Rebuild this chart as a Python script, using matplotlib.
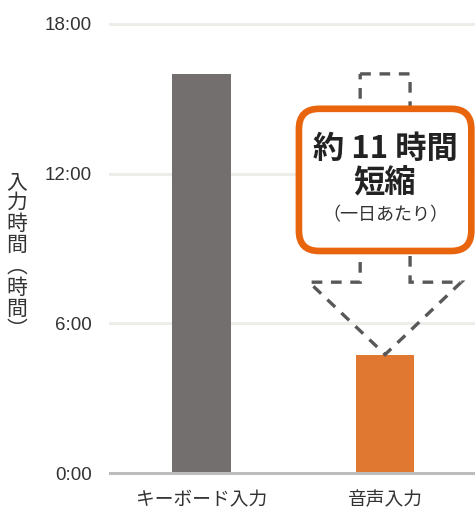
import matplotlib
matplotlib.use('Agg')
from matplotlib import pyplot as plt
from matplotlib.patches import FancyBboxPatch
from matplotlib.path import Path
from matplotlib.patches import PathPatch

plt.rcParams['font.family'] = ['Noto Sans CJK JP', 'DejaVu Sans']

# data
categories = ['キーボード入力', '音声入力']
hours = [16.0, 4.75]
bar_colors = ['#736F6E', '#E07832']
ytick_values = [0, 6, 12, 18]
ytick_labels = ['0:00', '6:00', '12:00', '18:00']
ylabel_chars = ['入', '力', '時', '間', '︵', '時', '間', '︶']
callout_lines = ['約 11 時間', '短縮', '（一日あたり）']

fig = plt.figure(figsize=(4.75, 5.11), dpi=100)
ax = fig.add_axes([110 / 475, 38 / 511, 1 - 110 / 475, (473 - 24) / 511])

x = list(range(len(categories)))
ax.bar(x, hours, width=0.32, color=bar_colors, zorder=3)

ax.set_xlim(-0.5, 1.49)
ax.set_ylim(0, 18)
ax.set_yticks(ytick_values)
ax.set_yticklabels(ytick_labels, family=['Liberation Sans', 'DejaVu Sans'])
ax.set_xticks(x)
ax.set_xticklabels(categories)
ax.tick_params(axis='y', length=0, pad=13, labelsize=13.5, labelcolor='#333333')
ax.tick_params(axis='x', length=0, pad=12, labelsize=13.5, labelcolor='#333333')
for v in ytick_values[1:]:
    ax.axhline(v, color='#EDEDE9', lw=2.2, zorder=1, clip_on=False)
for s in ['top', 'right', 'left']:
    ax.spines[s].set_visible(False)
ax.spines['bottom'].set_color('#BDBDBD')
ax.spines['bottom'].set_linewidth(2.2)
ax.spines['bottom'].set_zorder(4)

# vertical label, upright characters
fig.text(17 / 475, 1 - 256 / 511, '\n'.join(ylabel_chars), ha='center', va='center',
         fontsize=15, linespacing=0.95, color='#333333')

# dashed arrow from keyboard level down to voice bar
cx = x[1]
top = hours[0]
tip = hours[1]
shoulder = tip + 2.9
stem = 0.136
head = 0.415
verts = [(cx - stem, top), (cx + stem, top), (cx + stem, shoulder), (cx + head, shoulder),
         (cx, tip), (cx - head, shoulder), (cx - stem, shoulder), (cx - stem, top)]
codes = [Path.MOVETO] + [Path.LINETO] * 6 + [Path.CLOSEPOLY]
ax.add_patch(PathPatch(Path(verts, codes), fill=False, edgecolor='#58585A', lw=2.4,
                       linestyle=(0, (3.2, 2.6)), zorder=5, clip_on=False))

# callout box
aspect = (184 / 1) / (449 / 18)
box = FancyBboxPatch((cx - 0.47, 8.9), 0.94, 5.7,
                     boxstyle='round,pad=0,rounding_size=0.11', mutation_aspect=aspect,
                     facecolor='white', edgecolor='#E8650E', lw=4.8, zorder=6, clip_on=False)
ax.add_patch(box)
ax.text(cx, 13.0, callout_lines[0], ha='center', va='center', fontsize=22.5,
        fontweight='bold', color='#222222', zorder=7)
ax.text(cx, 11.6, callout_lines[1], ha='center', va='center', fontsize=22.5,
        fontweight='bold', color='#222222', zorder=7)
ax.text(cx, 10.35, callout_lines[2], ha='center', va='center', fontsize=13,
        color='#333333', zorder=7)

fig.savefig('out.png', dpi=100)
